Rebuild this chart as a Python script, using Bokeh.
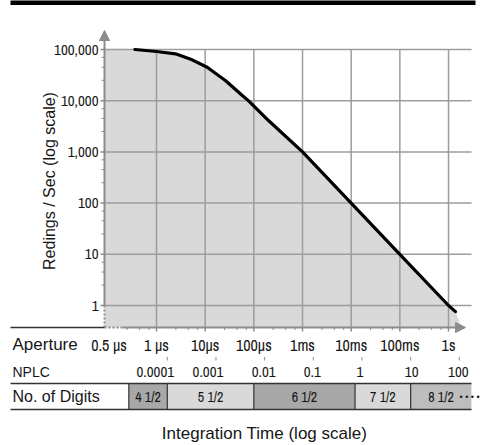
import math
from bokeh.plotting import figure
from bokeh.models import Range1d, Arrow, NormalHead
from bokeh.embed import file_html
from bokeh.resources import INLINE
from bokeh.core.properties import value

# ---------------- data ----------------
time_s = [3.6e-7, 1.0e-6, 2.45e-6, 5.4e-6, 1.1e-5, 2.6e-5, 5.8e-5, 7.9e-5, 2.0e-4,
          1e-3, 1e-2, 1e-1, 1.0, 1.39]
readings = [100000, 91500, 82400, 62900, 45000, 24800, 12600, 9800, 4100,
            1000, 100, 10, 1, 0.76]

aperture_ticks = [1e-6, 1e-5, 1e-4, 1e-3, 1e-2, 1e-1, 1.0]
aperture_labels = ["1 µs", "10µs", "100µs", "1ms", "10ms", "100ms", "1s"]
aperture_start_label = "0.5 µs"

plc_seconds = 1 / 60
nplc_ticks = [0.0001, 0.001, 0.01, 0.1, 1, 10, 100]
nplc_labels = ["0.0001", "0.001", "0.01", "0.1", "1", "10", "100"]

y_ticks = [1, 10, 100, 1000, 10000, 100000]
y_labels = ["1", "10", "100", "1,000", "10,000", "100,000"]

digit_labels = ["4 1/2", "5 1/2", "6 1/2", "7 1/2", "8 1/2"]
digit_start = [2.7e-7, 1.667e-6, 1e-4, 1.2e-2, 1.667e-1]
digit_end = [1.667e-6, 1e-4, 1.2e-2, 1.667e-1, 2.95]
digit_colors = ["#a8a8a8", "#d9d9d9", "#a8a8a8", "#d9d9d9", "#bdbdbd"]

# ---------------- layout helpers (page pixel -> data value) ----------------
def px2t(px):
    return 10 ** (-6 + (px - 156) / 48.67)

def py2v(py):
    return 10 ** ((305 - py) / 51.2)

COND = "Archivo Narrow"
REG = "Liberation Sans"
GRAY = "#8c8c8c"
GRID = "#9d9d9d"
INK = "#161616"

ax_x = px2t(104)      # y axis position
ax_y = py2v(327)      # x axis position
right_x = px2t(471)   # right end of the grid

p = figure(width=480, height=445, x_axis_type="log", y_axis_type="log",
           x_range=Range1d(px2t(0), px2t(480)), y_range=Range1d(py2v(445), py2v(0)),
           x_axis_location=None, y_axis_location=None,
           output_backend="svg", toolbar_location=None,
           min_border_left=0, min_border_right=0, min_border_top=0, min_border_bottom=0)
p.outline_line_color = None
p.grid.visible = False
p.background_fill_color = "white"
p.border_fill_color = "white"

# header bar
p.quad(left=[px2t(10)], right=[px2t(475)], bottom=[py2v(4.5)], top=[py2v(-3)],
       fill_color="black", line_color=None)

# area under the curve
fill_x = [ax_x] + time_s + [px2t(461), ax_x]
fill_y = [readings[0]] + readings + [ax_y, ax_y]
p.patch(fill_x, fill_y, fill_color="#d9d9d9", line_color=None)

# grid lines
n = len(aperture_ticks)
p.segment(x0=aperture_ticks, y0=[ax_y] * n, x1=aperture_ticks, y1=[max(y_ticks)] * n,
          line_color=GRID, line_width=1.5)
m = len(y_ticks)
p.segment(x0=[ax_x] * m, y0=y_ticks, x1=[right_x] * m, y1=y_ticks,
          line_color=GRID, line_width=1.5)

# the curve
p.line(time_s, readings, line_color="black", line_width=3.2, line_cap="round")

# ---- y axis ----
p.segment(x0=[ax_x], y0=[ax_y], x1=[ax_x], y1=[min(y_ticks)], line_color=GRAY,
          line_width=2, line_dash="2 2")
p.add_layout(Arrow(end=NormalHead(size=10, fill_color=GRAY, line_color=GRAY),
                   x_start=ax_x, y_start=min(y_ticks), x_end=ax_x, y_end=py2v(30),
                   line_color=GRAY, line_width=2))
p.segment(x0=[px2t(100)] * m, y0=y_ticks, x1=[ax_x] * m, y1=y_ticks,
          line_color=GRAY, line_width=1.5)
y_minor = [k * 10 ** e for e in range(0, 5) for k in (2.5, 4.5, 7)]
p.segment(x0=[px2t(101)] * len(y_minor), y0=y_minor, x1=[ax_x] * len(y_minor), y1=y_minor,
          line_color=GRAY, line_width=1)
p.text(x=[px2t(98)] * m, y=y_ticks, text=y_labels, text_align="right",
       text_baseline="middle", text_font=value(COND), text_font_size="15px",
       text_color=INK)
p.text(x=[px2t(49)], y=[py2v(180.5)], text=["Redings / Sec (log scale)"], angle=math.pi / 2,
       text_align="center", text_baseline="middle", text_font=value(REG),
       text_font_size="16px", text_color=INK)

# ---- x axis (aperture) ----
p.segment(x0=[px2t(10)], y0=[ax_y], x1=[ax_x], y1=[ax_y], line_color="#333333",
          line_width=1.5)
p.segment(x0=[ax_x], y0=[ax_y], x1=[px2t(122)], y1=[ax_y], line_color=GRAY,
          line_width=2, line_dash="2 2")
p.add_layout(Arrow(end=NormalHead(size=10, fill_color=GRAY, line_color=GRAY),
                   x_start=px2t(122), y_start=ax_y, x_end=px2t(465), y_end=ax_y,
                   line_color=GRAY, line_width=2))
p.segment(x0=aperture_ticks, y0=[ax_y] * n, x1=aperture_ticks, y1=[py2v(331)] * n,
          line_color=GRAY, line_width=1.5)
x_minor = [k * 10 ** e for e in range(-7, 1) for k in (2.5, 4.5, 7)]
x_minor = [t for t in x_minor if px2t(124) < t < px2t(452)]
p.segment(x0=x_minor, y0=[ax_y] * len(x_minor), x1=x_minor, y1=[py2v(329.5)] * len(x_minor),
          line_color=GRAY, line_width=1)
p.text(x=aperture_ticks, y=[py2v(344)] * n, text=aperture_labels, text_align="center",
       text_baseline="middle", text_font=value(COND), text_font_size="16px",
       text_color=INK)
p.text(x=[px2t(108.5)], y=[py2v(344)], text=[aperture_start_label], text_align="center",
       text_baseline="middle", text_font=value(COND), text_font_size="16px",
       text_color=INK)
p.text(x=[px2t(12)], y=[py2v(344)], text=["Aperture"], text_align="left",
       text_baseline="middle", text_font=value(REG), text_font_size="17px",
       text_color=INK)

# ---- NPLC row ----
nplc_t = [v * plc_seconds for v in nplc_ticks]
k = len(nplc_t)
p.segment(x0=nplc_t, y0=[py2v(356.5)] * k, x1=nplc_t, y1=[py2v(360)] * k,
          line_color=GRAY, line_width=1)
nplc_dx = [-12, -8, -1, -1, -2, 1, -1]
p.text(x=nplc_t, y=[py2v(371)] * k, text=nplc_labels, x_offset=nplc_dx, text_align="center",
       text_baseline="middle", text_font=value(COND), text_font_size="15px",
       text_color=INK)
p.text(x=[px2t(12)], y=[py2v(371)], text=["NPLC"], text_align="left",
       text_baseline="middle", text_font=value(REG), text_font_size="14px",
       text_color=INK)

# ---- number of digits row ----
d = len(digit_labels)
row_top, row_bot = py2v(383), py2v(409)
p.quad(left=digit_start, right=digit_end, bottom=[row_bot] * d, top=[row_top] * d,
       fill_color=digit_colors, line_color=None)
p.segment(x0=digit_start, y0=[row_bot] * d, x1=digit_start, y1=[row_top] * d,
          line_color="#333333", line_width=1.2)
p.segment(x0=[px2t(10)] * 2, y0=[row_top, row_bot], x1=[px2t(471)] * 2, y1=[row_top, row_bot],
          line_color="#333333", line_width=1.5)
centers = [math.sqrt(a * b) for a, b in zip(digit_start, digit_end)]
p.text(x=centers, y=[py2v(396)] * d, text=digit_labels, text_align="center",
       text_baseline="middle", text_font=value(COND), text_font_size="14px",
       text_color=INK)
p.text(x=[px2t(459)], y=[py2v(396)], text=["• • • •"], text_align="left",
       text_baseline="middle", text_font=value(REG), text_font_size="9px",
       text_color=INK)
p.text(x=[px2t(12)], y=[py2v(396)], text=["No. of Digits"], text_align="left",
       text_baseline="middle", text_font=value(REG), text_font_size="16px",
       text_color=INK)

# ---- x title ----
p.text(x=[px2t(264)], y=[py2v(432.5)], text=["Integration Time (log scale)"],
       text_align="center", text_baseline="middle", text_font=value(REG),
       text_font_size="17px", text_color=INK)

open("out.html", "w").write(file_html(p, INLINE))
